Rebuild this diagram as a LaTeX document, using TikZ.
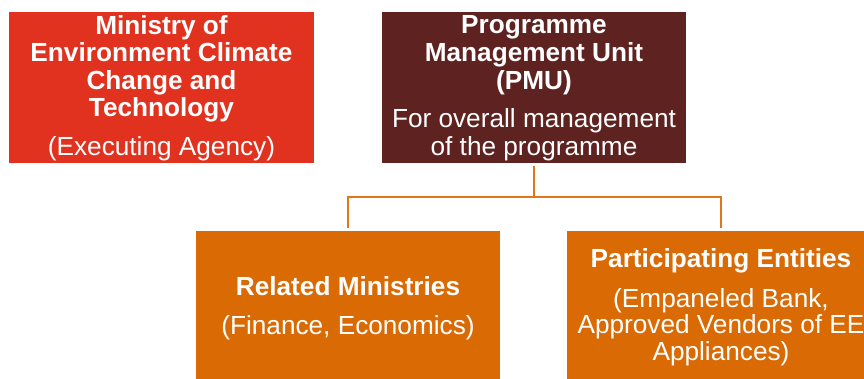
\documentclass[tikz,border=0pt]{standalone}
\usepackage{fontspec}
\setmainfont{Liberation Sans}
\definecolor{cred}{HTML}{E0321F}
\definecolor{cmaroon}{HTML}{5E2320}
\definecolor{corange}{HTML}{DA6A04}
\definecolor{cline}{HTML}{E07617}
\begin{document}
\begin{tikzpicture}[x=1pt,y=-1pt,
  box/.style={inner sep=0pt, outer sep=0pt, draw=none, minimum width=#1},
  hd/.style={anchor=base, text=white, inner sep=0pt, font=\fontsize{26.2}{28}\selectfont\bfseries},
  bd/.style={anchor=base, text=white, inner sep=0pt, font=\fontsize{26.2}{28}\selectfont},
  conn/.style={draw=cline, line width=2.2pt}]
\useasboundingbox (0,0) rectangle (864,379);
\fill[white] (0,0) rectangle (864,379);
% boxes
\node[box=305pt, fill=cred, minimum height=151pt] (min) at (161.5,87.5) {};
\node[box=304pt, fill=cmaroon, minimum height=151pt] (pmu) at (534,87.5) {};
\node[box=304pt, fill=corange, minimum height=150pt] (rel) at (348,306) {};
\node[box=308pt, fill=corange, minimum height=150pt] (par) at (721,306) {};
% texts box 1
\node[hd] (m1) at (161.5,35) {Ministry of};
\node[hd] (m2) at (161.5,62) {Environment Climate};
\node[hd] (m3) at (161.5,89.5) {Change and};
\node[hd] (m4) at (161.5,117) {Technology};
\node[bd] (m5) at (161.5,156) {(Executing Agency)};
% texts box 2
\node[hd] (p1) at (534,34) {Programme};
\node[hd] (p2) at (534,62) {Management Unit};
\node[hd] (p3) at (534,90) {(PMU)};
\node[bd] (p4) at (534,128) {For overall management};
\node[bd] (p5) at (534,155.5) {of the programme};
% texts box 3
\node[hd] (r1) at (348,295.5) {Related Ministries};
\node[bd] (r2) at (348,334) {(Finance, Economics)};
% texts box 4
\node[hd] (e1) at (721,267) {Participating Entities};
\node[bd] (e2) at (721,307) {(Empaneled Bank,};
\node[bd] (e3) at (721,333.5) {Approved Vendors of EE};
\node[bd] (e4) at (721,360.5) {Appliances)};
% connectors
\draw[conn] ([yshift=-3.5pt]pmu.south) -- ++(0,30.5) coordinate (j);
\draw[conn] ([yshift=3pt]rel.north) |- (j) -| ([yshift=3pt]par.north);
\end{tikzpicture}
\end{document}
